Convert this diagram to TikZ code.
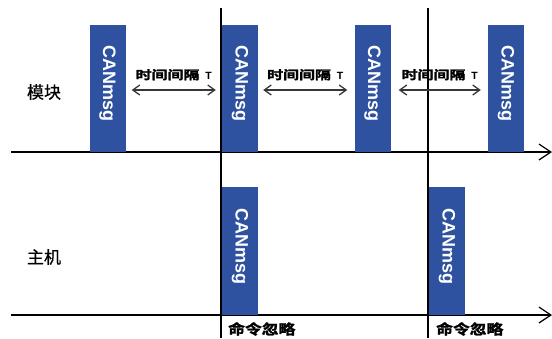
\documentclass[tikz,border=0pt]{standalone}
\usepackage{fontspec}
\setmainfont{Liberation Sans}
\newfontfamily\cjk[FakeBold=0.6]{Noto Sans CJK SC}
\newfontfamily\cjkb[FakeBold=1.8]{Noto Sans CJK SC Bold}
\usetikzlibrary{arrows.meta}
\definecolor{cblue}{RGB}{46,82,160}
\definecolor{cgray}{RGB}{55,55,55}
\tikzset{
  msgbox/.style={rotate=-90, fill=cblue, minimum width=127pt, minimum height=36pt,
    inner sep=0pt, text=white, font=\fontsize{18}{18}\selectfont\bfseries},
  axis/.style={line width=1.4pt, -{Straight Barb[length=12pt,width=16pt,line width=1.2pt]}},
  vline/.style={line width=1.3pt},
  interval/.style={cgray, line width=1.3pt,
    {Straight Barb[length=7pt,width=10pt]}-{Straight Barb[length=7pt,width=10pt]}},
  ivlabel/.style={above=9pt, inner sep=0pt, text=black},
  rowlabel/.style={font=\cjk\fontsize{17}{17}\selectfont, inner sep=0pt},
  ignore/.style={anchor=north west, inner sep=0pt, font=\cjkb\fontsize{14}{14}\selectfont}
}
\newcommand{\ivtext}{\scalebox{1.33}[1]{\cjkb\fontsize{12}{12}\selectfont 时间间隔}\hspace{6pt}{\fontsize{10.5}{10.5}\selectfont\bfseries T}}
\newcommand{\igtext}{\scalebox{1.2}[1]{命令忽略}}
\begin{document}
\begin{tikzpicture}[x=1pt,y=-1pt]
\useasboundingbox (0,0) rectangle (552,338);
% axes
\coordinate (a1s) at (11,152);
\coordinate (a1e) at (552,152);
\coordinate (a2s) at (11,315);
\coordinate (a2e) at (552,315);
\draw[axis] (a1s) -- (a1e);
\draw[axis] (a2s) -- (a2e);
% vertical markers
\coordinate (v1t) at (221,8);
\coordinate (v1b) at (221,338);
\coordinate (v2t) at (428,8);
\coordinate (v2b) at (428,338);
\draw[vline] (v1t) -- (v1b);
\draw[vline] (v2t) -- (v2b);
% module messages
\node[msgbox] (m1) at (107.5,88.5) {CANmsg\hspace*{10pt}};
\node[msgbox] (m2) at (240,88.5) {CANmsg\hspace*{10pt}};
\node[msgbox] (m3) at (372.5,88.5) {CANmsg\hspace*{10pt}};
\node[msgbox] (m4) at (506,88.5) {CANmsg\hspace*{10pt}};
% host messages
\node[msgbox, minimum width=128pt] (h1) at (240,251) {CANmsg\hspace*{9pt}};
\node[msgbox, minimum width=128pt] (h2) at (447,251) {CANmsg\hspace*{9pt}};
% intervals
\draw[interval] ([xshift=6pt,yshift=-1.5pt]m1.north) -- node[ivlabel] (t1) {\ivtext} ([xshift=-6pt,yshift=-1.5pt]m2.south);
\draw[interval] ([xshift=5pt,yshift=-1.5pt]m2.north) -- node[ivlabel] (t2) {\ivtext} ([xshift=-7pt,yshift=-1.5pt]m3.south);
\draw[interval] ([xshift=8pt,yshift=-1.5pt]m3.north) -- node[ivlabel] (t3) {\ivtext} ([xshift=-7pt,yshift=-1.5pt]m4.south);
% row labels
\node[rowlabel] (mod) at (44,92) {模块};
\node[rowlabel] (host) at (44,257) {主机};
% ignore labels
\node[ignore] (i1) at (228,322) {\igtext};
\node[ignore] (i2) at (436,322) {\igtext};
\end{tikzpicture}
\end{document}
